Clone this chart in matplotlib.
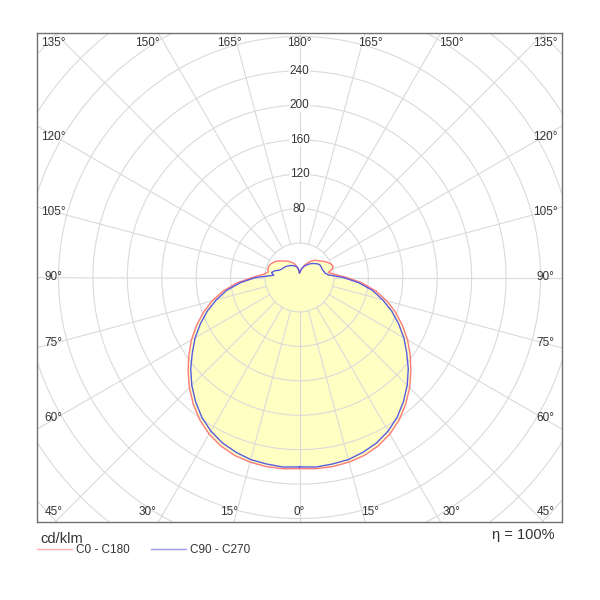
import numpy as np
import matplotlib
matplotlib.use("Agg")
import matplotlib.pyplot as plt
from matplotlib.lines import Line2D
from matplotlib.patches import Circle

plt.rcParams['font.family'] = ['Liberation Sans', 'DejaVu Sans']

# luminous intensity (cd/klm) vs gamma angle, 0..180 deg step 5
gamma = np.arange(0, 181, 5)
c0 = [222, 223, 223, 222, 220, 216, 210, 202, 192, 181, 169, 157, 145, 132, 119, 105, 90, 73, 55,
      41, 34, 40, 41, 39, 36, 33, 30, 28, 26, 23, 20, 17, 14, 11, 8, 6, 5]
c180 = [222, 223, 223, 222, 220, 216, 210, 202, 192, 181, 169, 157, 145, 132, 119, 105, 90, 73, 55,
        42, 37, 38, 38, 37, 35, 33, 30, 27, 25, 23, 21, 19, 17, 14, 11, 8, 5]
c90 = [220, 221, 220, 219, 216, 212, 206, 198, 188, 177, 165, 152, 140, 127, 114, 100, 86, 69, 51,
       34, 30, 29, 28, 28, 28, 27, 25, 23, 21, 19, 17, 15, 13, 11, 9, 7, 5]
c270 = [220, 221, 220, 219, 216, 212, 206, 198, 188, 177, 165, 152, 140, 127, 114, 100, 86, 69, 51,
        30, 33, 30, 25, 23, 22, 21, 20, 19, 18, 17, 16, 15, 14, 13, 11, 8, 5]

ring_values = np.arange(40, 481, 40)
ring_labels = [80, 120, 160, 200, 240]
angle_steps = np.arange(0, 360, 15)

red = '#ff7a7a'
blue = '#5a5ae0'
fill_col = '#ffffc4'
grid_col = '#dadada'


def curve(right, left):
    g = np.radians(gamma)
    r = np.array(right, dtype=float)
    l = np.array(left, dtype=float)
    x = np.concatenate([r * np.sin(g), -l[::-1] * np.sin(g[::-1])])
    y = np.concatenate([-r * np.cos(g), -l[::-1] * np.cos(g[::-1])])
    return x, y


fig = plt.figure(figsize=(6, 6), dpi=100)
ax = fig.add_axes([37 / 600, 1 - 522 / 600, 525 / 600, 489 / 600])
ax.set_xlim(-305, 305)
ax.set_ylim(-284, 284)
ax.set_xticks([])
ax.set_yticks([])
for s in ax.spines.values():
    s.set_color('#707070')
    s.set_linewidth(1.0)

xr, yr = curve(c0, c180)
xb, yb = curve(c90, c270)
ax.fill(xr, yr, color=fill_col, lw=0, zorder=1)
ax.fill(xb, yb, color=fill_col, lw=0, zorder=1)

# grid
for rv in ring_values:
    ax.add_patch(Circle((0, 0), rv, fill=False, ec=grid_col, lw=0.8, zorder=2))
for a in angle_steps:
    t = np.radians(a)
    ax.plot([40 * np.sin(t), 600 * np.sin(t)], [-40 * np.cos(t), -600 * np.cos(t)],
            color=grid_col, lw=0.8, zorder=2)

ax.plot(xr, yr, color=red, lw=1.0, zorder=4)
ax.plot(xb, yb, color=blue, lw=1.0, zorder=5)

for v in ring_labels:
    ax.text(0, v, str(v), ha='center', va='center', fontsize=8.5, color='#333333', zorder=6,
            bbox=dict(boxstyle='square,pad=0.05', fc='white', ec='none'))

# angle labels around the frame
lab_kw = dict(ha='center', va='center', fontsize=8.5, color='#333333', zorder=6)
for a in [0, 15, 30]:
    dx = 306 * np.tan(np.radians(a))
    for sgn in ([1] if a == 0 else [-1, 1]):
        ax.text(sgn * dx, -272, f'{a}°', **lab_kw)
        ax.text(sgn * dx, 272, f'{180 - a}°', **lab_kw)
for a in [45, 60, 75, 90, 105, 120, 135]:
    dy = 282 * np.tan(np.radians(a - 90)) if a not in (45, 135) else (-272 if a == 45 else 272)
    for sgn in [-1, 1]:
        ax.text(sgn * 286, dy, f'{a}°', **lab_kw)

fig.text(40 / 600, 1 - 539 / 600, 'cd/klm', fontsize=10.5, color='#333333', va='center', ha='left')
fig.text(555 / 600, 1 - 535 / 600, 'η = 100%', fontsize=10.5, color='#333333', va='center', ha='right')

handles = [Line2D([], [], color=red, lw=1.0, alpha=0.6), Line2D([], [], color=blue, lw=1.0, alpha=0.6)]
fig.legend(handles, ['C0 - C180', 'C90 - C270'], loc='center left',
           bbox_to_anchor=(37 / 600, 1 - 550 / 600), ncol=2, frameon=False, fontsize=8.5,
           handlelength=3.0, handletextpad=0.3, columnspacing=1.8, labelcolor='#333333',
           borderaxespad=0, borderpad=0)

fig.savefig('out.png', dpi=100, facecolor='white')
